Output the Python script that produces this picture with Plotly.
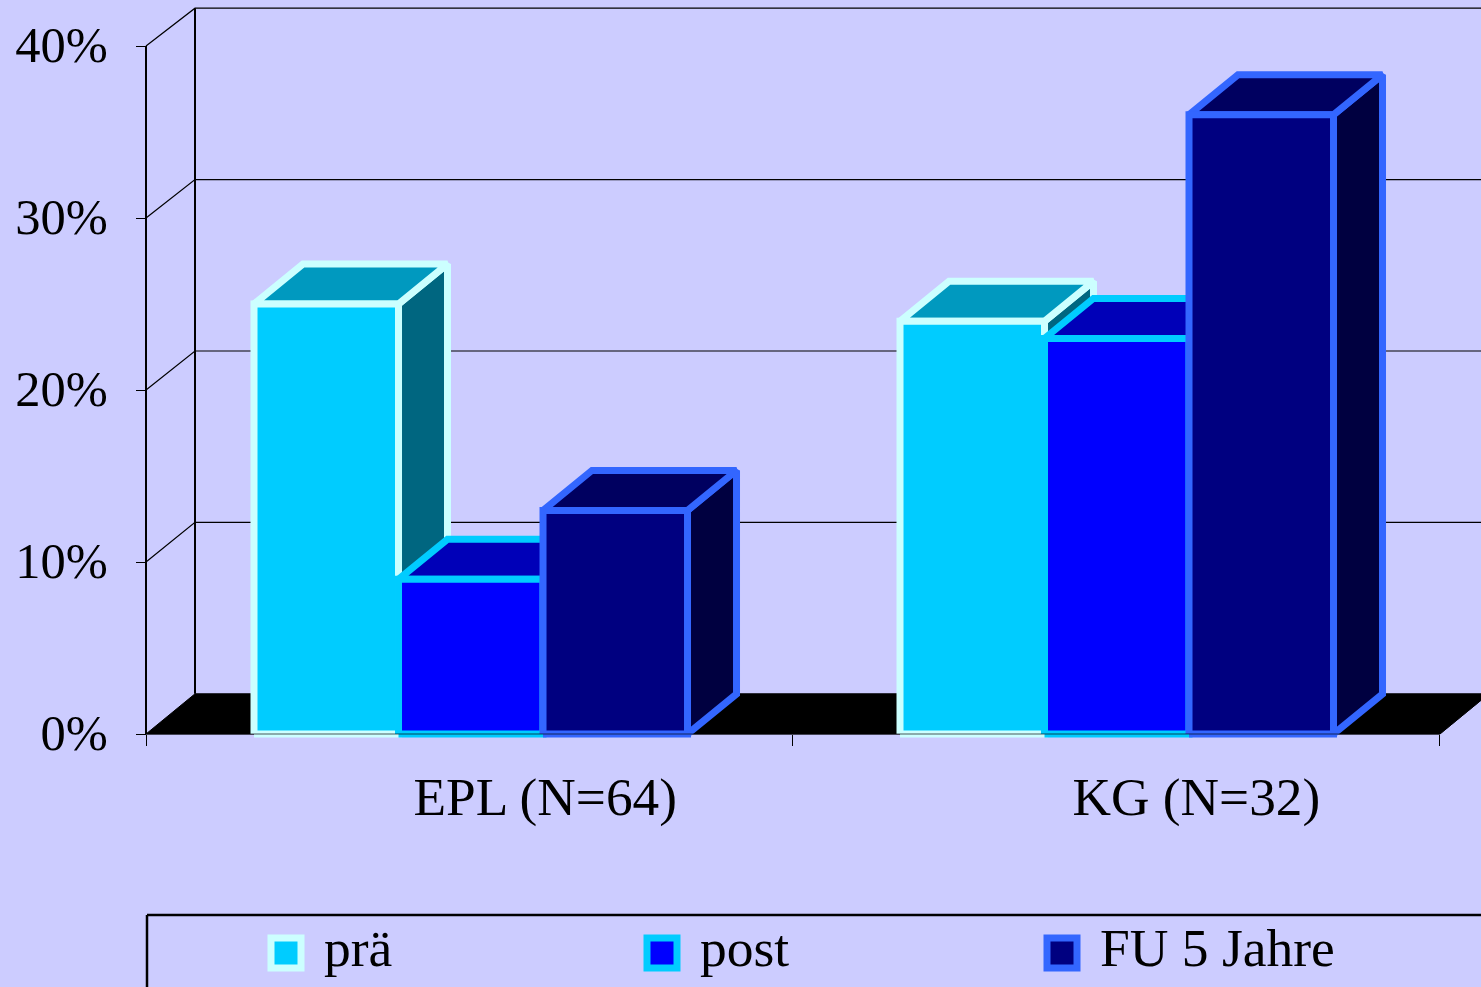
import plotly.graph_objects as go

# ---- data ----
categories = ["EPL (N=64)", "KG (N=32)"]
series_names = ["prä", "post", "FU 5 Jahre"]
pra_values = [25, 24]
post_values = [9, 23]
fu_values = [13, 36]
y_tick_values = [0, 10, 20, 30, 40]
y_tick_labels = ["0%", "10%", "20%", "30%", "40%"]

# ---- styles ----
BG = "#CCCCFF"
FONT = "Liberation Serif"
front_colors = ["#00CCFF", "#0000FF", "#000080"]
top_colors = ["#0099BF", "#0000B8", "#000060"]
side_colors = ["#006680", "#000080", "#000040"]
edge_colors = ["#CCFFFF", "#00CCFF", "#3366FF"]

# ---- geometry in axis units ----
W, H = 1481, 987
X0_PX, Y0_PX = 146, 734   # pixel position of the axis origin
PX_X = 646.0              # pixels per category
PX_Y = 17.2               # pixels per percent
DX = 49.0 / PX_X          # depth of the 3D box
DY = 40.0 / PX_Y
FLOOR_DY = 40.2 / PX_Y
BACK_SCALE = 17.14 / PX_Y
X_END = 2.003
GROUP_OFFSET = 0.1672
BAR_W = 144.5 / PX_X
X_MAX = (W - X0_PX) / PX_X
X_MIN = -X0_PX / PX_X
Y_MAX = Y0_PX / PX_Y
Y_MIN = -(H - Y0_PX) / PX_Y

fig = go.Figure()


def poly(xs, ys, fill=None, line=None, width=1, name=None):
    fig.add_trace(go.Scatter(
        x=xs, y=ys, mode="lines", name=name, showlegend=False, hoverinfo="skip",
        fill="toself" if fill else "none", fillcolor=fill,
        line=dict(color=line if line else "rgba(0,0,0,0)", width=width if line else 0),
    ))


def back(v):
    return FLOOR_DY + v * BACK_SCALE


# floor
poly([0, DX, X_END + DX, X_END, 0], [0, back(0), back(0), 0, 0], fill="#000000", line="#000000", width=1)

# walls and grid
poly([0, 0], [0, 40], line="#000000", width=2)
poly([DX, DX], [back(0), back(40)], line="#000000", width=2)
for v in y_tick_values[1:]:
    poly([0, DX, X_MAX], [v, back(v), back(v)], line="#000000", width=1.2)

# bars
all_values = [pra_values, post_values, fu_values]
for c in range(len(categories)):
    for s in range(3):
        v = all_values[s][c]
        x0 = c + GROUP_OFFSET + s * BAR_W
        x1 = x0 + BAR_W
        poly([x1, x1 + DX, x1 + DX, x1, x1], [0, DY, v + DY, v, 0],
             fill=side_colors[s], line=edge_colors[s], width=7)
        poly([x0, x0 + DX, x1 + DX, x1, x0], [v, v + DY, v + DY, v, v],
             fill=top_colors[s], line=edge_colors[s], width=7)
        poly([x0, x1, x1, x0, x0], [0, 0, v, v, 0],
             fill=front_colors[s], line=edge_colors[s], width=7, name=series_names[s])

# front axis line, over the bar bases
poly([0, X_END, X_END + DX], [0, 0, back(0)], line="rgba(0,0,0,0.65)", width=1)

# legend row
legend_marker_x = [(286 - X0_PX) / PX_X, (662 - X0_PX) / PX_X, (1062 - X0_PX) / PX_X]
legend_text_x = [(324 - X0_PX) / PX_X, (700 - X0_PX) / PX_X, (1100 - X0_PX) / PX_X]
LEGEND_Y = (Y0_PX - 953) / PX_Y
for s in range(3):
    fig.add_trace(go.Scatter(
        x=[legend_marker_x[s]], y=[LEGEND_Y], mode="markers", name=series_names[s],
        showlegend=False, hoverinfo="skip",
        marker=dict(symbol="square", size=30, color=front_colors[s],
                    line=dict(color=edge_colors[s], width=7)),
    ))
    fig.add_trace(go.Scatter(
        x=[legend_text_x[s]], y=[LEGEND_Y], mode="text", text=[series_names[s]],
        textposition="middle right", showlegend=False, hoverinfo="skip",
        textfont=dict(family=FONT, size=53.5, color="#000000"),
    ))

LEG_TOP = (H - 915) / H
LEG_LEFT = 147 / W
fig.add_shape(type="line", xref="paper", yref="paper", x0=LEG_LEFT, x1=1, y0=LEG_TOP, y1=LEG_TOP,
              line=dict(color="#000000", width=2.5))
fig.add_shape(type="line", xref="paper", yref="paper", x0=LEG_LEFT, x1=LEG_LEFT, y0=LEG_TOP, y1=0,
              line=dict(color="#000000", width=2.5))

fig.update_layout(
    width=W, height=H,
    margin=dict(l=0, r=0, t=0, b=0, pad=0),
    paper_bgcolor=BG, plot_bgcolor=BG,
    showlegend=False,
    font=dict(family=FONT, size=52, color="#000000"),
    xaxis=dict(
        domain=[0, 1], range=[X_MIN, X_MAX], anchor="free", position=(H - Y0_PX) / H,
        showgrid=False, zeroline=False, showline=False,
        tickmode="array", tickvals=[0.618, 1.626], ticktext=categories,
        ticks="", ticklen=0, ticklabelstandoff=27,
        minor=dict(tickmode="array", tickvals=[0, 1, X_END], ticks="outside",
                   ticklen=11, tickwidth=1, tickcolor="#000000", showgrid=False),
        tickfont=dict(family=FONT, size=53.3, color="#000000"),
        fixedrange=True,
    ),
    yaxis=dict(
        domain=[0, 1], range=[Y_MIN, Y_MAX], anchor="free", position=X0_PX / W,
        showgrid=False, zeroline=False, showline=False,
        tickmode="array", tickvals=y_tick_values, ticktext=y_tick_labels,
        ticks="outside", ticklen=10, tickwidth=1, tickcolor="#000000",
        ticklabelstandoff=18, ticklabelshift=-2,
        tickfont=dict(family=FONT, size=50.5, color="#000000"),
        fixedrange=True,
    ),
)

fig.write_html("out.html", config={"displayModeBar": False},
               post_script="document.body.style.margin='0';document.body.style.overflow='hidden';")
